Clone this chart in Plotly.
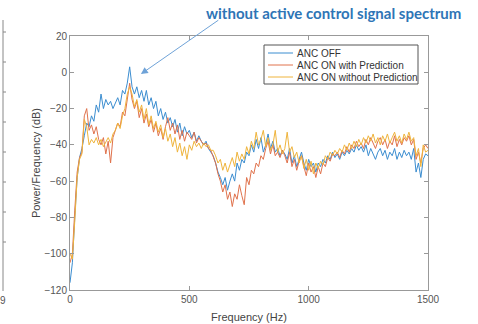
import plotly.graph_objects as go

freq = list(range(0, 1501, 10))

anc_off = [
    -116, -105, -80, -58, -47, -42, -35, -28, -30, -24,
    -27, -18, -22, -12, -20, -15, -18, -16, -20, -17,
    -14, -18, -10, -12, -6, 3, -8, -12, -8, -14,
    -10, -16, -10, -18, -14, -20, -16, -24, -20, -26,
    -22, -28, -25, -30, -26, -33, -28, -35, -30, -34,
    -32, -36, -33, -38, -35, -38, -40, -38, -42, -44,
    -46, -50, -55, -58, -62, -58, -65, -60, -56, -60,
    -50, -54, -48, -50, -44, -46, -40, -44, -37, -42,
    -36, -44, -40, -34, -42, -38, -44, -42, -46, -43,
    -45, -48, -42, -50, -46, -52, -48, -44, -50, -54,
    -48, -52, -50, -55, -50, -52, -48, -50, -46, -48,
    -44, -47, -45, -48, -44, -46, -43, -45, -42, -44,
    -40, -43, -41, -44, -40, -46, -42, -45, -48, -44,
    -42, -46, -43, -48, -44, -46, -42, -48, -44, -47,
    -43, -46, -44, -48, -42, -55, -50, -58, -48, -45,
    -46,
]

anc_on_pred = [
    -105, -100, -76, -55, -47, -44, -24, -20, -32, -29,
    -34, -30, -37, -40, -36, -45, -38, -50, -36, -32,
    -28, -30, -22, -24, -14, -6, -15, -20, -16, -25,
    -20, -28, -23, -30, -26, -33, -28, -35, -31, -37,
    -30, -25, -32, -28, -34, -29, -37, -32, -38, -33,
    -35, -37, -33, -39, -36, -38, -40, -39, -42, -43,
    -46, -50, -56, -60, -66, -62, -70, -66, -74, -67,
    -70, -62, -68, -73, -58, -62, -54, -56, -50, -52,
    -46, -48, -42, -38, -45, -40, -46, -44, -47, -43,
    -46, -50, -44, -52, -48, -54, -49, -46, -52, -57,
    -50, -55, -52, -58, -52, -56, -50, -52, -47, -49,
    -45, -46, -44, -47, -43, -45, -41, -44, -40, -42,
    -38, -41, -39, -42, -37, -40, -36, -39, -42, -38,
    -36, -40, -37, -42, -38, -40, -35, -41, -37, -40,
    -36, -38, -35, -40, -37, -48, -44, -50, -42, -40,
    -42,
]

anc_on_nopred = [
    -100, -103, -82, -58, -48, -45, -26, -30, -40, -37,
    -39, -36, -40, -37, -41, -38, -36, -39, -34, -32,
    -28, -31, -24, -20, -12, -8, -12, -19, -15, -22,
    -18, -26, -20, -29, -24, -31, -27, -33, -29, -36,
    -31, -38, -34, -41, -36, -44, -39, -46, -41, -48,
    -40, -43, -38, -41, -39, -42, -39, -41, -40, -43,
    -43, -46, -50, -48, -54, -50, -55, -51, -47, -52,
    -44, -49, -45, -48, -41, -45, -38, -42, -33, -40,
    -37, -32, -41, -36, -43, -40, -32, -44, -40, -45,
    -42, -33, -44, -41, -47, -44, -50, -46, -53, -48,
    -54, -49, -56, -50, -53, -49, -51, -46, -48, -44,
    -46, -43, -45, -42, -44, -40, -43, -39, -42, -38,
    -41, -37, -40, -36, -39, -35, -38, -34, -39, -36,
    -40, -35, -38, -34, -39, -36, -33, -38, -35, -39,
    -34, -37, -33, -38, -36, -46, -42, -52, -40, -44,
    -43,
]

series_names = ["ANC OFF", "ANC ON with Prediction", "ANC ON without Prediction"]
x_ticks = [0, 500, 1000, 1500]
y_ticks = [20, 0, -20, -40, -60, -80, -100, -120]

colors = ["#3b8dd0", "#e0724c", "#efb43c"]

# plot area in pixels: x 70..428, y 36..290
L, R, T, B = 70, 428, 36, 290
W, H = R - L, B - T


def px(xp):
    return (xp - L) / W


def py(yp):
    return (B - yp) / H


fig = go.Figure()
for name, vals, c in zip(series_names, [anc_off, anc_on_pred, anc_on_nopred], colors):
    fig.add_trace(go.Scatter(x=freq, y=vals, mode="lines", name=name,
                             line=dict(color=c, width=1), showlegend=False))

axis_common = dict(showgrid=False, zeroline=False, showline=True, linecolor="#999999",
                   linewidth=1, mirror="ticks", ticks="inside", ticklen=4, automargin=False,
                   tickcolor="#999999", tickfont=dict(family="Liberation Sans", size=10, color="#555555"))

fig.update_xaxes(range=[0, 1500], tickvals=x_ticks,
                 title=dict(text="Frequency (Hz)", font=dict(family="Liberation Sans", size=11, color="#444444"), standoff=9),
                 **axis_common)
fig.update_yaxes(range=[-120, 20], tickvals=y_ticks,
                 title=dict(text="Power/Frequency (dB)", font=dict(family="Liberation Sans", size=11, color="#444444"), standoff=1),
                 **axis_common)

fig.update_layout(
    width=478, height=324,
    margin=dict(l=L, r=478 - R, t=T, b=324 - B),
    paper_bgcolor="white", plot_bgcolor="white",
    showlegend=False,
)

# custom legend box (MATLAB style, compact rows)
fig.add_shape(type="rect", xref="paper", yref="paper", x0=px(264), x1=px(418), y0=py(84), y1=py(45),
              line=dict(color="#555555", width=1), fillcolor="white", layer="above")
row_y = [53, 65, 77]
for name, c, ry in zip(series_names, colors, row_y):
    fig.add_shape(type="line", xref="paper", yref="paper", x0=px(268), x1=px(293), y0=py(ry), y1=py(ry),
                  line=dict(color=c, width=1), layer="above")
    fig.add_annotation(text=name, xref="paper", yref="paper", x=px(295), y=py(ry), xanchor="left",
                       yanchor="middle", showarrow=False,
                       font=dict(family="Liberation Sans", size=10, color="#333333"))

fig.add_annotation(text="<b>without active control signal spectrum</b>", xref="paper", yref="paper",
                   x=px(333), y=py(13), xanchor="center", yanchor="middle",
                   showarrow=False, font=dict(family="Lato", size=15, color="#2e75b6"))
fig.add_annotation(text="", x=297, y=-1, xref="x", yref="y", showarrow=True,
                   ax=79, ay=-55, arrowhead=2, arrowsize=1.4, arrowwidth=1, arrowcolor="#6fa3d8")

# partial neighbouring panel at far left
fig.add_shape(type="line", xref="paper", yref="paper", x0=px(3), x1=px(3),
              y0=py(20), y1=py(291), line=dict(color="#888888", width=1))
for ty in [32, 62, 92, 122, 152, 182, 212, 242]:
    fig.add_shape(type="line", xref="paper", yref="paper", x0=px(3), x1=px(6),
                  y0=py(ty), y1=py(ty), line=dict(color="#888888", width=1))
fig.add_annotation(text="9", xref="paper", yref="paper", x=px(3), y=py(300), xanchor="center",
                   yanchor="middle", showarrow=False,
                   font=dict(family="Liberation Sans", size=10, color="#555555"))

fig.write_html("out.html")
